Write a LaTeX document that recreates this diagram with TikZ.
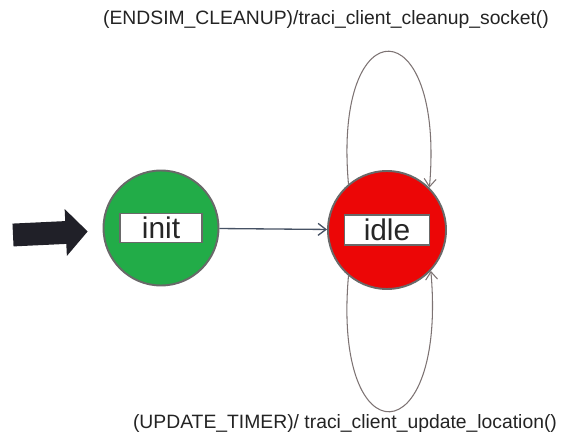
\documentclass[tikz,border=0pt]{standalone}
\usepackage{fontspec}
\setmainfont{Liberation Sans}
\usepackage{xcolor}
\usetikzlibrary{arrows.meta,positioning,calc}
\definecolor{initstate}{RGB}{34,172,72}
\definecolor{idlestate}{RGB}{236,6,6}
\definecolor{rim}{RGB}{105,105,105}
\definecolor{loopline}{RGB}{125,115,115}
\definecolor{transline}{RGB}{70,82,100}
\definecolor{entry}{RGB}{32,32,40}
\definecolor{labeltext}{RGB}{35,35,35}
\tikzstyle{state}=[circle, draw=rim, line width=1.1pt, minimum size=2.3cm, inner sep=0pt]
\tikzstyle{namebox}=[rectangle, draw=rim, fill=white, line width=0.85pt, minimum width=1.64cm, minimum height=0.58cm, inner sep=0pt, font=\fontsize{17}{17}\selectfont, text=black!85]
\tikzset{event/.style={font=\fontsize{11}{13}\selectfont, text=labeltext}}
\tikzset{selfloop/.style={draw=loopline, line width=0.6pt, -{Straight Barb[length=4.5pt,width=6.8pt]}}}
\tikzset{y=-0.02cm}
\tikzset{x=0.02cm}

\begin{document}
\begin{tikzpicture}
  \useasboundingbox (0,0) rectangle (565,439);
  %% States
  \draw (161,228) node[state,fill=initstate] (init) {};
  \draw (init.center) node[namebox] (initname) {init};
  \draw (387,230) node[state,fill=idlestate,minimum size=2.36cm] (idle) {};
  \draw (idle.center) node[namebox,minimum width=1.7cm,minimum height=0.6cm] (idlename) {idle};

  %% Entry arrow
  \coordinate (entry) at (13,235);
  \draw[entry, line width=13pt, -{Triangle[length=12.5pt,width=26pt]}, shorten >=8.5pt] (entry) -- (init);

  %% Transitions
  \draw[transline, line width=0.75pt, -{Straight Barb[length=4.5pt,width=6.8pt]}] (init) -- (idle);
  \draw[selfloop] (idle.130) to[out=95,in=85,distance=3.6cm] (idle.45);
  \draw[selfloop] (idle.230) to[out=265,in=275,distance=3.7cm] (idle.317);

  %% Events
  \draw (326,20) node[event] (cleanup) {(ENDSIM\_CLEANUP)/traci\_client\_cleanup\_socket()};
  \draw (345,424) node[event] (update) {(UPDATE\_TIMER)/ traci\_client\_update\_location()};
\end{tikzpicture}
\end{document}
